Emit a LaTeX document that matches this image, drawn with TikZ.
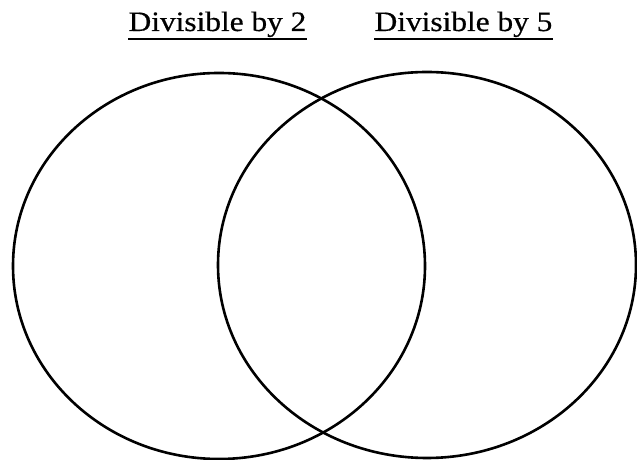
\documentclass[tikz,border=0pt]{standalone}
\usepackage{fontspec}
\setmainfont{Liberation Serif}[FakeBold=0.5]
\usetikzlibrary{positioning,shapes.geometric}

\begin{document}
\begin{tikzpicture}[
            x=1pt, y=1pt,
            % Stili
            setcircle/.style={ellipse, draw=black, line width=2.6pt, inner sep=0pt},
            settitle/.style={anchor=base, inner sep=0pt, xscale=1.12, font=\fontsize{28}{32}\selectfont},
            underline/.style={line width=1.6pt, line cap=butt}
        ]
        \useasboundingbox (0,0) rectangle (637,460);

        % Insiemi
        \node (two) [setcircle, minimum width=412pt, minimum height=386pt] at (219,194) {};
        \node (five) [setcircle, minimum width=418pt, minimum height=386pt] at (427,195) {};

        % Titoli
        \node (twotitle) [settitle] at (217.5,429) {Divisible by 2};
        \node (fivetitle) [settitle] at (463.5,429) {Divisible by 5};
        \draw [underline] ([yshift=-2pt]twotitle.south west) -- ([yshift=-2pt]twotitle.south east);
        \draw [underline] ([yshift=-2pt]fivetitle.south west) -- ([yshift=-2pt]fivetitle.south east);

    \end{tikzpicture}
\end{document}
